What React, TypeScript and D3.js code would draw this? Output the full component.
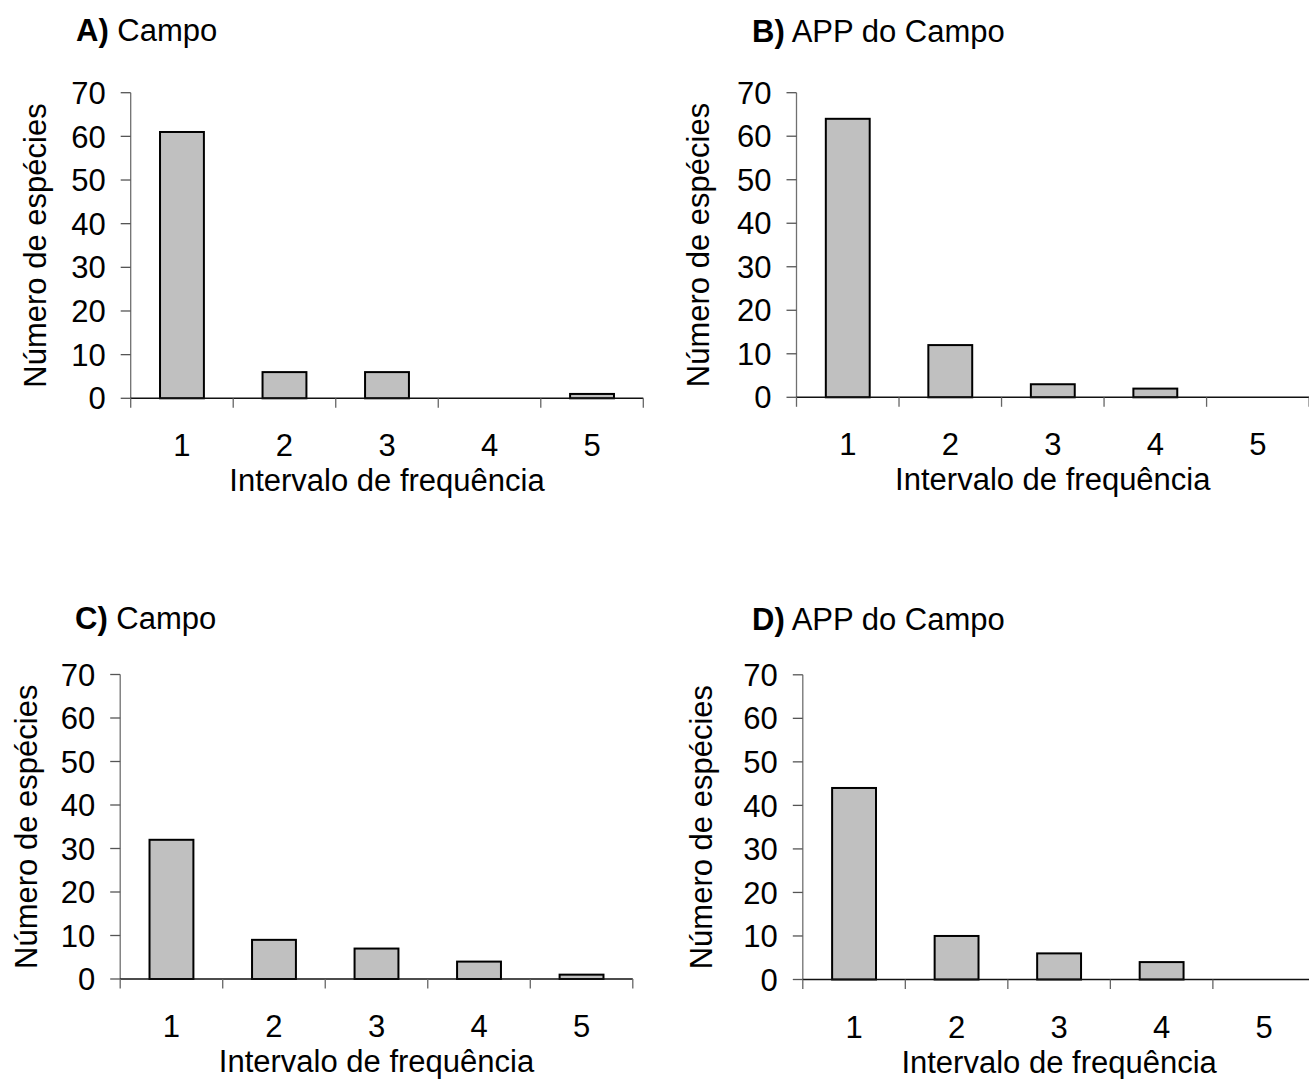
import React from "react";
import * as d3 from "d3";

const categories = ["1", "2", "3", "4", "5"];
const yTicks = [0, 10, 20, 30, 40, 50, 60, 70];
const titlesBold = ["A)", "B)", "C)", "D)"];
const titlesText = ["Campo", "APP do Campo", "Campo", "APP do Campo"];
const valuesA = [61, 6, 6, 0, 1];
const valuesB = [64, 12, 3, 2, 0];
const valuesC = [32, 9, 7, 4, 1];
const valuesD = [44, 10, 6, 4, 0];
const yLabel = "Número de espécies";
const xLabel = "Intervalo de frequência";

const seriesList = [valuesA, valuesB, valuesC, valuesD];

const layouts = [
  { x0: 130.7, top: 92.7, base: 398.3, titleX: 76, titleY: 41, ylabX: 46 },
  { x0: 796.5, top: 92.7, base: 397.3, titleX: 752, titleY: 42, ylabX: 709 },
  { x0: 120.2, top: 674.5, base: 979, titleX: 75, titleY: 629, ylabX: 37 },
  { x0: 802.8, top: 674.8, base: 979.5, titleX: 752, titleY: 630, ylabX: 712 },
];

const W = 512.6;
const FONT = "'Liberation Sans', Arial, Helvetica, sans-serif";
const FS = 31;

function Panel({ values, layout, idx }: { values: number[]; layout: any; idx: number }) {
  const { x0, top, base, titleX, titleY, ylabX } = layout;
  const x = d3.scaleBand<string>().domain(categories).range([x0, x0 + W]).paddingInner(0.572).paddingOuter(0.286);
  const y = d3.scaleLinear().domain([0, 70]).range([base, top]);
  const step = x.step();
  const boundaries = d3.range(categories.length + 1).map((i) => x0 + i * step);
  return (
    <g fontFamily={FONT}>
      <text x={titleX} y={titleY} fontSize={FS} fill="#000">
        <tspan fontWeight="bold">{titlesBold[idx]}</tspan>
        <tspan> {titlesText[idx]}</tspan>
      </text>
      <line x1={x0} x2={x0} y1={y(70)} y2={y(0)} stroke="#707070" strokeWidth={1.3} />
      {yTicks.map((t) => (
        <g key={t}>
          <line x1={x0 - 10} x2={x0} y1={y(t)} y2={y(t)} stroke="#555" strokeWidth={1.3} />
          <text x={x0 - 25} y={y(t)} dy="0.36em" textAnchor="end" fontSize={FS} fill="#000">
            {t}
          </text>
        </g>
      ))}
      {values.map((v, i) =>
        v > 0 ? (
          <rect
            key={i}
            x={x(categories[i])!}
            y={y(v)}
            width={x.bandwidth()}
            height={y(0) - y(v)}
            fill="#c0c0c0"
            stroke="#000"
            strokeWidth={2}
          />
        ) : null
      )}
      <line x1={x0} x2={x0 + W} y1={base} y2={base} stroke="#111" strokeWidth={1.5} />
      {boundaries.map((bx, i) => (
        <line key={i} x1={bx} x2={bx} y1={base} y2={base + 9.5} stroke="#666" strokeWidth={1.3} />
      ))}
      {categories.map((c) => (
        <text key={c} x={x(c)! + x.bandwidth() / 2} y={base + 58} textAnchor="middle" fontSize={FS} fill="#000">
          {c}
        </text>
      ))}
      <text x={x0 + W / 2} y={base + 93} textAnchor="middle" fontSize={FS} fill="#000">
        {xLabel}
      </text>
      <text
        transform={`translate(${ylabX},${(top + base) / 2}) rotate(-90)`}
        textAnchor="middle"
        fontSize={FS}
        fill="#000"
      >
        {yLabel}
      </text>
    </g>
  );
}

export default function App() {
  return (
    <>
      <style>{`body{margin:0;background:#fff;}`}</style>
      <svg width={1309} height={1079} style={{ display: "block", background: "#fff" }}>
        {seriesList.map((vals, i) => (
          <Panel key={i} values={vals} layout={layouts[i]} idx={i} />
        ))}
      </svg>
    </>
  );
}
